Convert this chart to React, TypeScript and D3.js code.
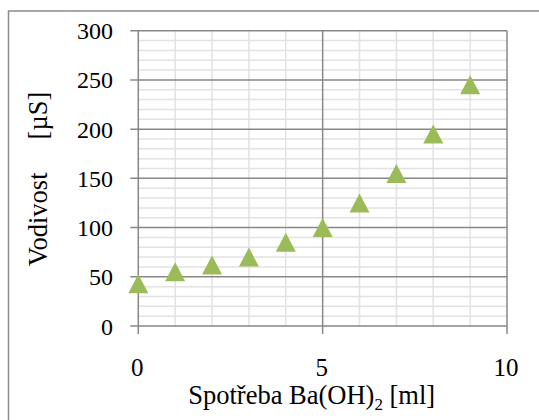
import React from 'react';
import * as d3 from 'd3';

// Ba(OH)2 consumption [ml] vs conductivity [µS]
const volumes = [0, 1, 2, 3, 4, 5, 6, 7, 8, 9];
const conductivity = [43, 55, 62, 70, 85, 100, 125, 155, 195, 245];

const xMajorTicks = [0, 5, 10];
const xMinorTicks = [1, 2, 3, 4, 6, 7, 8, 9];
const yMajorTicks = [0, 50, 100, 150, 200, 250, 300];
const yMinorTicks = d3.range(0, 301, 10).filter((v) => v % 50 !== 0);

const WIDTH = 539;
const HEIGHT = 420;
const FONT = 'Liberation Serif';

const COLORS = {
  frame: '#8c8c8c',
  major: '#878787',
  minor: '#e2e2e2',
  marker: '#9bbb59',
  text: '#000000',
};

export default function App() {
  const x = d3.scaleLinear().domain([0, 10]).range([138.3, 507]);
  const y = d3.scaleLinear().domain([0, 300]).range([326, 30.7]);

  const triW = 20;
  const triH = 19;
  const tri = `M0,${-triH / 2}L${triW / 2},${triH / 2}L${-triW / 2},${triH / 2}Z`;

  return (
    <svg
      width={WIDTH}
      height={HEIGHT}
      style={{ position: 'absolute', left: 0, top: 0, background: '#fff' }}
    >
      {/* chart frame, cut off at right and bottom */}
      <rect x={8.5} y={11} width={560} height={440} fill="#fff" stroke={COLORS.frame} strokeWidth={1.5} />

      {/* minor grid */}
      {yMinorTicks.map((v) => (
        <line key={`ym${v}`} x1={x(0)} x2={x(10)} y1={y(v)} y2={y(v)} stroke={COLORS.minor} strokeWidth={1.5} />
      ))}
      {xMinorTicks.map((v) => (
        <line key={`xm${v}`} x1={x(v)} x2={x(v)} y1={y(0)} y2={y(300)} stroke={COLORS.minor} strokeWidth={1.5} />
      ))}

      {/* major grid + tick marks */}
      {yMajorTicks.map((v) => (
        <line key={`yM${v}`} x1={x(0) - 8} x2={x(10)} y1={y(v)} y2={y(v)} stroke={COLORS.major} strokeWidth={1.5} />
      ))}
      {xMajorTicks.map((v) => (
        <line key={`xM${v}`} x1={x(v)} x2={x(v)} y1={y(0) + 8} y2={y(300)} stroke={COLORS.major} strokeWidth={1.5} />
      ))}

      {/* markers */}
      {volumes.map((v, i) => (
        <path key={`p${v}`} d={tri} transform={`translate(${x(v)},${y(conductivity[i])})`} fill={COLORS.marker} />
      ))}

      {/* y tick labels */}
      {yMajorTicks.map((v) => (
        <text key={`yl${v}`} x={113} y={y(v) + 8.5} fontFamily={FONT} fontSize={24} textAnchor="end" fill={COLORS.text}>
          {v}
        </text>
      ))}

      {/* x tick labels */}
      {xMajorTicks.map((v) => (
        <text key={`xl${v}`} x={x(v) - 1} y={375.5} fontFamily={FONT} fontSize={25} textAnchor="middle" fill={COLORS.text}>
          {v}
        </text>
      ))}

      {/* axis titles */}
      <text x={311.7} y={404} fontFamily={FONT} fontSize={26.5} textAnchor="middle" fill={COLORS.text}>
        Spotřeba Ba(OH)
        <tspan fontSize={17} dy={6}>2</tspan>
        <tspan dy={-6}> [ml]</tspan>
      </text>
      <text
        transform={`translate(46.5,179) rotate(-90)`}
        fontFamily={FONT}
        fontSize={26.5}
        textAnchor="middle"
        fill={COLORS.text}
        style={{ whiteSpace: 'pre' }}
      >
        {'Vodivost     [µS]'}
      </text>
    </svg>
  );
}
